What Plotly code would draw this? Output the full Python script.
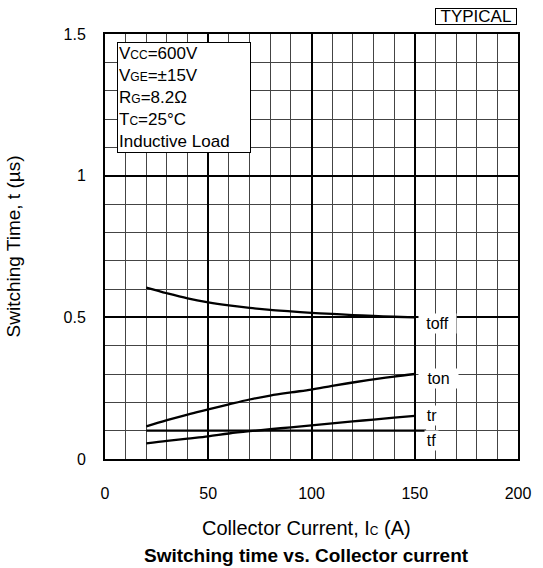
import plotly.graph_objects as go

# Data
x_toff = [20, 30, 40, 50, 60, 70, 80, 90, 100, 110, 120, 130, 140, 150]
y_toff = [0.605, 0.585, 0.567, 0.553, 0.542, 0.533, 0.526, 0.521, 0.516, 0.512, 0.508, 0.505, 0.502, 0.500]
x_ton = [20, 30, 40, 50, 60, 70, 80, 90, 100, 110, 120, 130, 140, 150]
y_ton = [0.115, 0.137, 0.157, 0.175, 0.193, 0.210, 0.224, 0.235, 0.245, 0.258, 0.270, 0.281, 0.291, 0.300]
x_tr = [20, 30, 40, 50, 60, 70, 80, 90, 100, 110, 120, 130, 140, 150]
y_tr = [0.055, 0.064, 0.072, 0.080, 0.090, 0.098, 0.105, 0.112, 0.119, 0.126, 0.133, 0.139, 0.146, 0.152]
x_tf = [20, 155.5]
y_tf = [0.100, 0.100]

curve_names = ["toff", "ton", "tr", "tf"]
label_x = [160.8, 161.5, 158.3, 158.3]
label_y = [0.4775, 0.283, 0.152, 0.067]
label_w = [35, 37, 22, 11]

x_ticks = [0, 50, 100, 150, 200]
y_ticks = [0, 0.5, 1, 1.5]
y_tick_text = ["0", "0.5", "1", "1.5"]

FONT = "Liberation Sans, Arial, sans-serif"
SUB = "<span style='font-size:12px'>{}</span>"

fig = go.Figure()
for xs, ys in [(x_toff, y_toff), (x_ton, y_ton), (x_tr, y_tr), (x_tf, y_tf)]:
    fig.add_trace(go.Scatter(x=xs, y=ys, mode="lines",
                             line=dict(color="black", width=2.3, shape="spline"),
                             showlegend=False, hoverinfo="skip"))

for name, lx, ly, lw in zip(curve_names, label_x, label_y, label_w):
    fig.add_annotation(x=lx, y=ly, text=name, showarrow=False,
                       xanchor="center", yanchor="middle", xref="x", yref="y",
                       width=lw, align="center", borderpad=1,
                       bgcolor="white", font=dict(size=16, color="black", family=FONT))

cond = ("V" + SUB.format("CC") + "=600V<br>"
        "V" + SUB.format("GE") + "=±15V<br>"
        "R" + SUB.format("G") + "=8.2Ω<br>"
        "T" + SUB.format("C") + "=25°C<br>"
        "Inductive Load")
fig.add_annotation(x=0.0285, y=0.981, xref="paper", yref="paper", text=cond,
                   showarrow=False, xanchor="left", yanchor="top", align="left",
                   bgcolor="white", bordercolor="black", borderwidth=1, borderpad=1,
                   width=130,
                   font=dict(size=17, color="black", family=FONT))

fig.add_annotation(x=0.9976, y=1.021, xref="paper", yref="paper", text="TYPICAL",
                   showarrow=False, xanchor="right", yanchor="bottom",
                   bgcolor="white", bordercolor="black", borderwidth=1, borderpad=1,
                   width=78, height=13,
                   font=dict(size=17, color="black", family=FONT))

fig.add_annotation(x=0.487, y=-0.163, xref="paper", yref="paper",
                   text="Collector Current, I" + SUB.format("C") + " (A)",
                   showarrow=False, xanchor="center", yanchor="middle",
                   font=dict(size=20, color="black", family=FONT))
fig.add_annotation(x=0.487, y=-0.226, xref="paper", yref="paper",
                   text="<b>Switching time vs. Collector current</b>",
                   showarrow=False, xanchor="center", yanchor="middle",
                   font=dict(size=19, color="black", family=FONT))

fig.update_xaxes(range=[0, 200], tickvals=x_ticks, ticks="",
                 showline=True, linecolor="black", linewidth=2, mirror=True,
                 showgrid=True, gridcolor="black", gridwidth=2,
                 minor=dict(dtick=10, showgrid=True, gridcolor="#444444", gridwidth=1),
                 ticklabelstandoff=19, zeroline=False,
                 tickfont=dict(size=16, color="black", family=FONT))
fig.update_yaxes(range=[0, 1.5], tickvals=y_ticks, ticktext=y_tick_text, ticks="",
                 showline=True, linecolor="black", linewidth=2, mirror=True,
                 showgrid=True, gridcolor="black", gridwidth=2,
                 minor=dict(dtick=0.1, showgrid=True, gridcolor="#444444", gridwidth=1),
                 ticklabelstandoff=14, zeroline=False,
                 title=dict(text="Switching Time, t (µs)", standoff=38,
                            font=dict(size=19, color="black", family=FONT)),
                 tickfont=dict(size=16, color="black", family=FONT))

fig.update_layout(width=543, height=568,
                  margin=dict(l=105, r=16, t=34, b=109),
                  paper_bgcolor="white", plot_bgcolor="white",
                  font=dict(family=FONT, color="black"))

fig.write_html("out.html")
